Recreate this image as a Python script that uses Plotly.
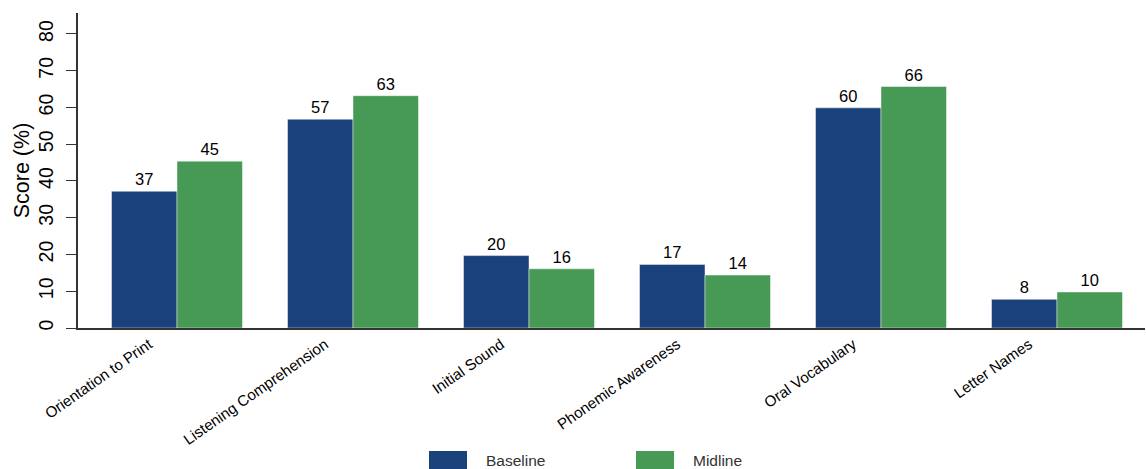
import plotly.graph_objects as go

# Reading assessment subtask scores
subtasks = [
    "Orientation to Print",
    "Listening Comprehension",
    "Initial Sound",
    "Phonemic Awareness",
    "Oral Vocabulary",
    "Letter Names",
]
baseline = [37.2, 56.8, 19.7, 17.3, 59.9, 7.8]
midline = [45.4, 63.2, 16.1, 14.4, 65.7, 9.8]

y_ticks = [0, 10, 20, 30, 40, 50, 60, 70, 80]
grid_levels = [10, 20, 30, 40, 50, 60, 70]

BLUE = "#1b417d"
GREEN = "#479956"
FONT = "Liberation Sans, Arial, Helvetica, sans-serif"

W, H = 1146, 469
ML, MR, MT, MB = 78, 1, 13, 141
Y_MAX = 85.7

fig = go.Figure()

for name, vals, color in [("Baseline", baseline, BLUE), ("Midline", midline, GREEN)]:
    fig.add_trace(
        go.Bar(
            name=name,
            x=subtasks,
            y=vals,
            yaxis="y2",
            marker=dict(color=color, line=dict(color="rgba(255,255,255,0.45)", width=1)),
            texttemplate="%{y:.0f}",
            textposition="outside",
            textfont=dict(family=FONT, size=16.5, color="#000000"),
            cliponaxis=False,
            showlegend=False,
        )
    )

fig.update_layout(
    width=W,
    height=H,
    margin=dict(l=ML, r=MR, t=MT, b=MB, pad=0),
    paper_bgcolor="white",
    plot_bgcolor="white",
    barmode="group",
    bargap=0.256,
    bargroupgap=0,
    font=dict(family=FONT, color="#000000"),
    xaxis=dict(
        type="category",
        range=[-0.5625, 5.5],
        tickangle=-35,
        tickfont=dict(family=FONT, size=15.2, color="#000000"),
        ticklabelshift=-28,
        showline=True,
        linecolor="#333333",
        linewidth=1.5,
        ticks="",
        showgrid=False,
        zeroline=False,
        automargin=False,
    ),
    # Background axis carrying only the horizontal grid
    yaxis=dict(
        range=[0, Y_MAX],
        tickvals=grid_levels,
        showticklabels=False,
        ticks="",
        showgrid=True,
        gridcolor="#e9eff3",
        gridwidth=1.2,
        showline=False,
        zeroline=False,
        automargin=False,
    ),
    # Visible score axis
    yaxis2=dict(
        overlaying="y",
        side="left",
        range=[0, Y_MAX],
        tickvals=y_ticks,
        tickangle=-90,
        tickfont=dict(family=FONT, size=19.5, color="#000000"),
        ticks="outside",
        ticklen=10,
        tickwidth=1.2,
        tickcolor="#333333",
        ticklabelstandoff=5,
        showline=True,
        linecolor="#333333",
        linewidth=1.5,
        showgrid=False,
        zeroline=False,
        title=dict(text="Score (%)", font=dict(family=FONT, size=21.5, color="#000000"), standoff=0),
        automargin=False,
    ),
)

# Legend drawn below the plot with wide colour keys
plot_w = W - ML - MR
plot_h = H - MT - MB


def px_x(px):
    return (px - ML) / plot_w


def px_y(py):
    return (H - MB - py) / plot_h


legend_items = [("Baseline", BLUE, 429), ("Midline", GREEN, 636)]
for label, color, left in legend_items:
    fig.add_shape(
        type="rect",
        xref="paper",
        yref="paper",
        x0=px_x(left),
        x1=px_x(left + 38),
        y0=px_y(451),
        y1=px_y(471),
        fillcolor=color,
        line=dict(width=0),
    )
    fig.add_annotation(
        xref="paper",
        yref="paper",
        x=px_x(left + 55),
        y=px_y(460),
        xanchor="left",
        yanchor="middle",
        text=label,
        showarrow=False,
        font=dict(family=FONT, size=15.5, color="#333333"),
    )

fig.write_html("out.html")
